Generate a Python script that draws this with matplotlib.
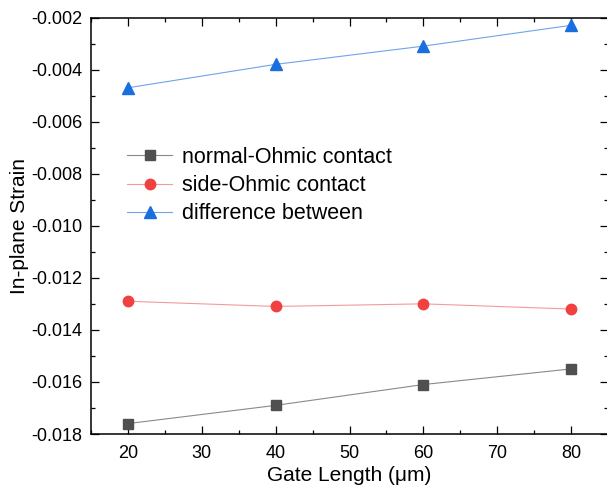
import matplotlib
matplotlib.use("Agg")
import matplotlib.pyplot as plt
from matplotlib.ticker import MultipleLocator, FormatStrFormatter

plt.rcParams['font.family'] = ['Liberation Sans', 'DejaVu Sans']

gate_length = [20, 40, 60, 80]
normal_ohmic = [-0.0176, -0.0169, -0.0161, -0.0155]
side_ohmic = [-0.0129, -0.0131, -0.0130, -0.0132]
difference = [-0.0047, -0.0038, -0.0031, -0.0023]

W, H = 607, 486
fig = plt.figure(figsize=(W / 100, H / 100), dpi=100)
ax = fig.add_axes([91 / W, 1 - 434 / H, 517 / W, 416.5 / H])

ax.plot(gate_length, normal_ohmic, color='#8a8a8a', lw=0.8, marker='s', ms=7,
        mfc='#505050', mec='#505050', label='normal-Ohmic contact')
ax.plot(gate_length, side_ohmic, color='#f59a9a', lw=0.8, marker='o', ms=7.5,
        mfc='#f14040', mec='#f14040', label='side-Ohmic contact')
ax.plot(gate_length, difference, color='#6fa4ea', lw=0.8, marker='^', ms=8.5,
        mfc='#1a6fdf', mec='#1a6fdf', label='difference between')

ax.set_xlim(15, 85)
ax.set_ylim(-0.018, -0.002)
ax.xaxis.set_major_locator(MultipleLocator(10))
ax.xaxis.set_minor_locator(MultipleLocator(5))
ax.yaxis.set_major_locator(MultipleLocator(0.002))
ax.yaxis.set_minor_locator(MultipleLocator(0.001))
ax.yaxis.set_major_formatter(FormatStrFormatter('%.3f'))

ax.tick_params(which='both', direction='in', top=True, right=True,
               labelsize=13, width=0.9, color='black')
ax.tick_params(which='major', length=5.5)
ax.tick_params(which='minor', length=3)
ax.tick_params(axis='x', which='major', pad=8)
ax.tick_params(axis='y', which='major', pad=6)
for s in ax.spines.values():
    s.set_linewidth(1.1)

ax.set_xlabel('Gate Length (\u03bcm)', fontsize=15, labelpad=3)
ax.set_ylabel('In-plane Strain', fontsize=15, labelpad=2)

ax.legend(loc='upper left', bbox_to_anchor=(127 / W, 1 - 147 / H),
          bbox_transform=fig.transFigure, frameon=False, fontsize=15.5,
          borderpad=0, borderaxespad=0, handlelength=2.1, handletextpad=0.45,
          labelspacing=0.33)

fig.savefig('out.png', dpi=100)
